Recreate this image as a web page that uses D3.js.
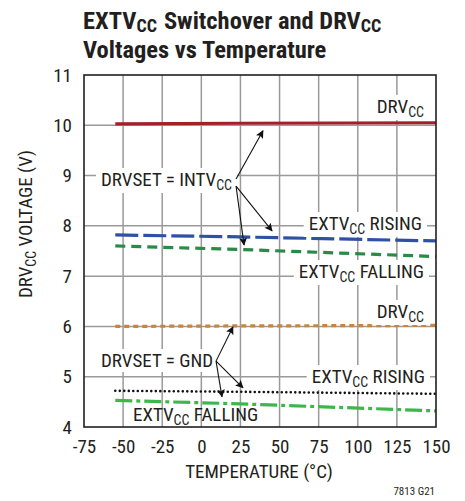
<!DOCTYPE html>
<html><head><meta charset="utf-8">
<script src="https://cdn.jsdelivr.net/npm/d3@7"></script>
<style>
body{margin:0;background:#fff;}
text{font-family:"Liberation Sans Narrow","Arial Narrow","Roboto Condensed","Liberation Sans",sans-serif;fill:#231f20;}
</style></head>
<body><svg id="c" width="465" height="501"></svg>
<script>
const xTicks = [-75,-50,-25,0,25,50,75,100,125,150];
const yTicks = [4,5,6,7,8,9,10,11];
const temps = [-55, 25, 150];
const drvccHigh = [10.03, 10.04, 10.05];
const extRisingHigh = [7.82, 7.78, 7.70];
const extFallingHigh = [7.60, 7.53, 7.39];
const drvccLow = [6.00, 6.01, 6.02];
const extRisingLow = [4.72, 4.70, 4.66];
const extFallingLow = [4.53, 4.46, 4.32];

const W=465,H=501, m={l:84,r:29,t:75,b:74};
const svg=d3.select("#c");
const x=d3.scaleLinear().domain([-75,150]).range([m.l,W-m.r]);
const y=d3.scaleLinear().domain([4,11]).range([H-m.b,m.t]);

// title as a run of separate text pieces
function run(xp,yp,parts,size,subSize,weight){
  let cx=xp;
  parts.forEach(p=>{
    cx+=p[2]||0;
    const el=svg.append("text").attr("x",cx).attr("y",yp+(p[1]?3:0))
      .attr("font-size",p[1]?subSize:size).style("font-weight",weight||"normal").text(p[0]);
    cx+=el.node().getComputedTextLength();
  });
}
run(83,29,[["EXTV",0],["CC",1],["Switchover and DRV",0,7],["CC",1]],24.5,18,"bold");
svg.append("text").attr("x",83).attr("y",58).style("font-weight","bold").attr("font-size",24.5).text("Voltages vs Temperature");

// grid
svg.append("g").selectAll("line").data(xTicks.slice(1,-1)).join("line")
  .attr("x1",d=>x(d)).attr("x2",d=>x(d)).attr("y1",y(11)).attr("y2",y(4))
  .attr("stroke","#9a9a9a").attr("stroke-width",1.5);
svg.append("g").selectAll("line").data(yTicks.slice(1,-1)).join("line")
  .attr("y1",d=>y(d)).attr("y2",d=>y(d)).attr("x1",x(-75)).attr("x2",x(150))
  .attr("stroke","#9a9a9a").attr("stroke-width",1.5);

// axes labels via d3 axes
const xa=svg.append("g").attr("transform",`translate(0,${y(4)})`)
  .call(d3.axisBottom(x).tickValues(xTicks).tickFormat(d=>String(d)).tickSize(0).tickPadding(13));
xa.select(".domain").remove();
xa.selectAll("text").attr("font-size",19).attr("font-family",null).attr("fill",null);
const ya=svg.append("g").attr("transform",`translate(${x(-75)},0)`)
  .call(d3.axisLeft(y).tickValues(yTicks).tickFormat(d=>String(d)).tickSize(0).tickPadding(12));
ya.select(".domain").remove();
ya.selectAll("text").attr("font-size",19).attr("font-family",null).attr("fill",null);

// axis titles
svg.append("text").attr("x",259).attr("y",478).attr("text-anchor","middle").attr("font-size",19).text("TEMPERATURE (°C)");
const yl=svg.append("text").attr("transform","translate(32,224) rotate(-90)").attr("text-anchor","middle").attr("font-size",19);
yl.append("tspan").text("DRV");
yl.append("tspan").text("CC").attr("font-size",14).attr("dy",4);
yl.append("tspan").text(" VOLTAGE (V)").attr("dy",-4);
svg.append("text").attr("x",435).attr("y",495).attr("text-anchor","end").attr("font-size",11).text("7813 G21");

// series
const line=d3.line().x(d=>x(d[0])).y(d=>y(d[1]));
const series=[
  {v:drvccHigh,c:"#a3202b",dash:null,w:3.2},
  {v:extRisingHigh,c:"#2f51a3",dash:"23,5",w:3.2},
  {v:extFallingHigh,c:"#2a8a46",dash:"10,6",w:3.2},
  {v:drvccLow,c:"#c8853d",dash:"5,4",w:3.2},
  {v:extRisingLow,c:"#111",dash:"0,4.5",w:2.6,cap:"round"},
  {v:extFallingLow,c:"#3fb64a",dash:"17,4,4,4",w:3.2},
];
const sg=svg.append("g");
series.forEach(s=>{
  sg.append("path").datum(temps.map((t,i)=>[t,s.v[i]])).attr("d",line)
   .attr("fill","none").attr("stroke",s.c).attr("stroke-width",s.w)
   .attr("stroke-dasharray",s.dash).attr("stroke-linecap",s.cap||"butt");
});

// frame
svg.append("rect").attr("x",x(-75)).attr("y",y(11)).attr("width",x(150)-x(-75)).attr("height",y(4)-y(11))
  .attr("fill","none").attr("stroke","#231f20").attr("stroke-width",1.6);

// annotations
function label(xp,yp,pre,sb,post,anchor,bg){
  const g=svg.append("g");
  const tx=g.append("text").attr("x",xp).attr("y",yp).attr("font-size",19).attr("text-anchor",anchor||"start");
  tx.append("tspan").text(pre);
  if(sb){tx.append("tspan").text(sb).attr("font-size",14).attr("dy",4);
    if(post) tx.append("tspan").text(post).attr("dy",-4);}
  if(bg){const b=tx.node().getBBox();
    g.insert("rect","text").attr("x",b.x-5).attr("y",b.y).attr("width",b.width+10).attr("height",b.height).attr("fill","#fff");}
}
label(424,113,"DRV","CC","", "end", true);
label(101,186,"DRVSET = INTV","CC","", "start", true);
label(422,230,"EXTV","CC"," RISING","end", true);
label(424,278,"EXTV","CC"," FALLING","end", true);
label(424,318,"DRV","CC","", "end", true);
label(101,367,"DRVSET = GND",null,null,"start", true);
label(425,383,"EXTV","CC"," RISING","end", true);
label(133,421,"EXTV","CC"," FALLING","start", false);

// arrows
svg.append("defs").append("marker").attr("id","ah").attr("viewBox","0 0 10 10").attr("refX",9).attr("refY",5)
  .attr("markerWidth",10).attr("markerHeight",8).attr("markerUnits","userSpaceOnUse").attr("orient","auto")
  .append("path").attr("d","M0,0 L10,5 L0,10 L2,5 Z").attr("fill","#111");
const arrows=[
  [[22.2,8.93],[39.4,9.89]],
  [[22.2,8.79],[45.2,7.90]],
  [[22.2,8.79],[27.3,7.62]],
  [[9.4,5.31],[20.2,5.99]],
  [[9.4,5.31],[26.6,4.78]],
  [[9.4,5.31],[13.2,4.60]],
];
svg.append("g").selectAll("line").data(arrows).join("line")
  .attr("x1",d=>x(d[0][0])).attr("y1",d=>y(d[0][1])).attr("x2",d=>x(d[1][0])).attr("y2",d=>y(d[1][1]))
  .attr("stroke","#111").attr("stroke-width",1.1).attr("marker-end","url(#ah)");
</script></body></html>
